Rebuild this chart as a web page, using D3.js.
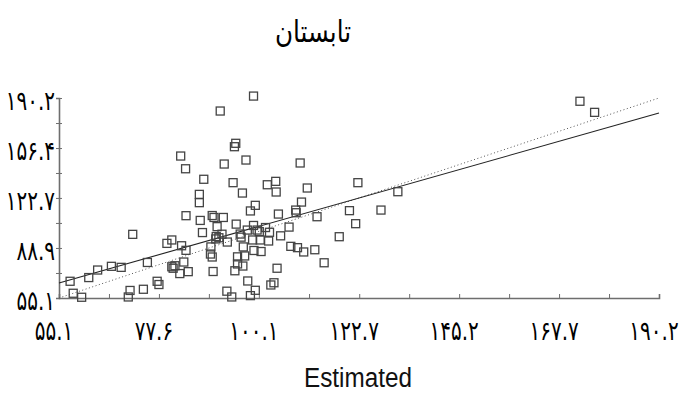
<!DOCTYPE html>
<html>
<head>
<meta charset="utf-8">
<script src="https://cdn.jsdelivr.net/npm/d3@7"></script>
<style>
  body { margin: 0; background: #fff; }
</style>
</head>
<body>
<div id="chart"></div>
<script>
let estimated = [98.9, 91.4, 94.9, 94.6, 82.5, 97.2, 92.3, 109.4, 83.6, 87.7,
  94.3, 103.9, 102.0, 104.0, 96.4, 111.0, 122.4, 86.7, 86.7, 99.3,
  109.7, 98.2, 108.4, 108.5, 104.5, 120.5, 127.6, 83.7, 89.6, 90.0,
  92.1, 86.9, 95.0, 113.2, 121.9, 71.7, 87.4, 90.7, 90.5, 91.1,
  91.8, 90.4, 95.9, 96.1, 98.9, 99.7, 100.2, 101.6, 102.5, 102.3,
  100.4, 98.7, 106.9, 105.0, 118.2, 80.5, 79.4, 82.7, 83.7, 93.0,
  89.3, 96.6, 99.0, 100.6, 107.3, 108.8, 110.2, 112.7, 89.6, 89.2,
  95.3, 96.9, 95.3, 96.5, 94.7, 89.8, 83.2, 80.8, 80.5, 81.2,
  82.3, 84.2, 75.0, 66.9, 69.1, 63.8, 61.8, 57.6, 58.3, 60.2,
  70.7, 71.1, 74.1, 77.2, 77.6, 104.2, 114.8, 97.6, 99.3, 103.5,
  102.8, 92.9, 94.0, 98.2, 172.4, 175.7, 131.4, 97.5];
let observed = [191.5, 181.4, 159.6, 157.3, 151.0, 148.3, 145.6, 146.3, 142.4, 135.3,
  133.0, 133.9, 131.6, 126.7, 126.0, 129.4, 133.0, 125.1, 119.5, 117.7,
  119.9, 113.9, 114.5, 112.7, 111.8, 114.1, 114.5, 110.7, 110.8, 109.5,
  109.5, 107.5, 105.0, 110.0, 105.3, 98.1, 99.3, 103.3, 96.6, 95.8,
  98.2, 95.0, 98.3, 96.2, 104.1, 101.0, 99.9, 102.7, 99.5, 93.6,
  94.3, 94.3, 103.0, 97.1, 96.5, 94.3, 92.0, 90.4, 87.3, 92.9,
  89.6, 89.6, 87.2, 86.5, 90.0, 89.1, 86.2, 87.7, 82.8, 84.8,
  82.9, 83.5, 78.1, 76.7, 73.5, 73.0, 79.4, 75.2, 76.2, 76.9,
  71.6, 72.9, 79.1, 76.5, 75.8, 74.0, 68.9, 66.4, 58.3, 55.6,
  55.8, 60.2, 61.0, 66.4, 64.2, 75.2, 78.9, 66.6, 60.3, 65.4,
  63.9, 59.7, 55.8, 56.7, 188.0, 180.5, 126.9, 101.0];

let xTicks = [55.1, 77.6, 100.1, 122.7, 145.2, 167.7, 190.2];
let xTickLabels = ["۵۵.۱", "۷۷.۶", "۱۰۰.۱", "۱۲۲.۷", "۱۴۵.۲", "۱۶۷.۷", "۱۹۰.۲"];
let yTicks = [55.1, 88.9, 122.7, 156.4, 190.2];
let yTickLabels = ["۵۵.۱", "۸۸.۹", "۱۲۲.۷", "۱۵۶.۴", "۱۹۰.۲"];

// fitted line (solid) and 1:1 line (dotted)
let fitSlope = 0.85;
let fitIntercept = 18.4;

let title = "تابستان";
let xTitle = "Estimated";

let width = 681;
let height = 410;
let margin = { top: 98, right: 22, bottom: 112, left: 59 };

let svg = d3
  .select("#chart")
  .append("svg")
  .attr("width", width)
  .attr("height", height);

let x = d3
  .scaleLinear()
  .domain([55.1, 190.2])
  .range([margin.left, width - margin.right]);

let y = d3
  .scaleLinear()
  .domain([55.1, 190.2])
  .range([height - margin.bottom, margin.top]);

// minor ticks halfway between labelled ones
let xMinor = d3.pairs(xTicks).map(p => (p[0] + p[1]) / 2);
let yMinor = d3.pairs(yTicks).map(p => (p[0] + p[1]) / 2);

let axisColor = "#6e6e6e";
let labelFont = "'DejaVu Sans', sans-serif";
// the original digits are tall and narrow, squeeze them sideways
let squeeze = 0.74;

// x axis
let xAxis = svg
  .append("g")
  .attr("transform", "translate(0," + y(55.1) + ")")
  .call(
    d3.axisBottom(x)
      .tickValues(xTicks.concat(xMinor))
      .tickSize(-4)
      .tickFormat("")
  );
xAxis.select(".domain").attr("stroke", axisColor).attr("stroke-width", 1.6);
xAxis.selectAll(".tick line").attr("stroke", axisColor).attr("stroke-width", 1);

svg
  .append("g")
  .selectAll("text")
  .data(xTicks)
  .enter()
  .append("text")
  .attr("transform", d => "translate(" + (x(d) - 5) + ",340) scale(" + squeeze + ",1)")
  .attr("text-anchor", "middle")
  .style("font-family", labelFont)
  .style("font-size", "27px")
  .attr("fill", "#000")
  .text((d, i) => xTickLabels[i]);

// y axis
let yAxis = svg
  .append("g")
  .attr("transform", "translate(" + x(55.1) + ",0)")
  .call(
    d3.axisLeft(y)
      .tickValues(yTicks.concat(yMinor))
      .tickSize(3)
      .tickFormat("")
  );
yAxis.select(".domain").attr("stroke", axisColor).attr("stroke-width", 1.6);
yAxis.selectAll(".tick line").attr("stroke", axisColor).attr("stroke-width", 1).attr("x2", 3).attr("x1", -3);

svg
  .append("g")
  .selectAll("text")
  .data(yTicks)
  .enter()
  .append("text")
  .attr("transform", d => "translate(55," + (y(d) + 2) + ") scale(" + squeeze + ",1)")
  .attr("dy", "0.38em")
  .attr("text-anchor", "end")
  .style("font-family", labelFont)
  .style("font-size", "27px")
  .attr("fill", "#000")
  .text((d, i) => yTickLabels[i]);

// 1:1 line
svg
  .append("line")
  .attr("x1", x(55.1))
  .attr("y1", y(55.1))
  .attr("x2", x(190.2))
  .attr("y2", y(190.2))
  .attr("stroke", "#555")
  .attr("stroke-width", 1)
  .attr("stroke-dasharray", "1,2.5");

// fitted line
svg
  .append("line")
  .attr("x1", x(55.1))
  .attr("y1", y(fitIntercept + fitSlope * 55.1))
  .attr("x2", x(190.2))
  .attr("y2", y(fitIntercept + fitSlope * 190.2))
  .attr("stroke", "#222")
  .attr("stroke-width", 1.1);

// points as open squares
let s = 8;
svg
  .append("g")
  .selectAll("rect")
  .data(estimated)
  .enter()
  .append("rect")
  .attr("x", d => x(d) - s / 2)
  .attr("y", (d, i) => y(observed[i]) - s / 2)
  .attr("width", s)
  .attr("height", s)
  .attr("fill", "none")
  .attr("stroke", "#444")
  .attr("stroke-width", 1.3);

// titles
svg
  .append("text")
  .attr("transform", "translate(313,42) scale(0.82,1)")
  .attr("text-anchor", "middle")
  .style("font-family", "'DejaVu Sans', sans-serif")
  .style("font-size", "30px")
  .attr("fill", "#000")
  .text(title);

svg
  .append("text")
  .attr("transform", "translate(358,387) scale(0.9,1)")
  .attr("text-anchor", "middle")
  .style("font-family", "'Liberation Sans', Arial, sans-serif")
  .style("font-size", "27px")
  .attr("fill", "#111")
  .text(xTitle);
</script>
</body>
</html>
